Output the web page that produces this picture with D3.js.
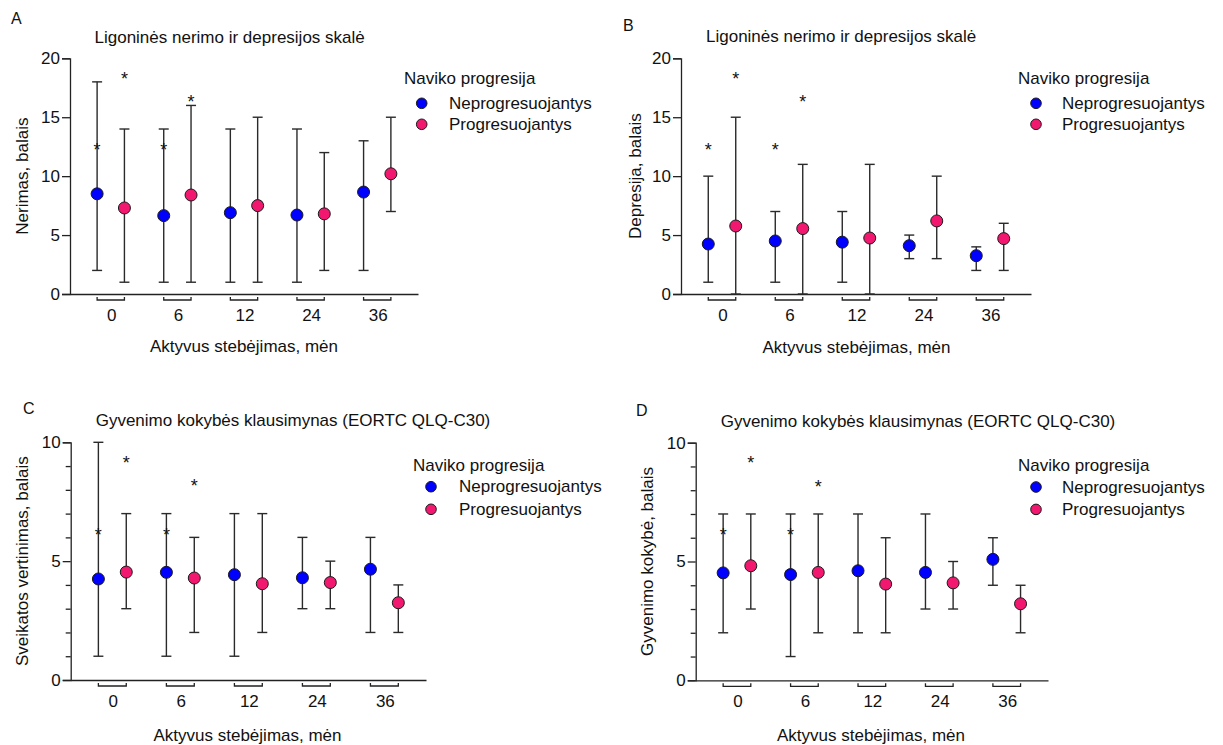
<!DOCTYPE html>
<html>
<head>
<meta charset="utf-8">
<script src="https://cdn.jsdelivr.net/npm/d3@7"></script>
<style>
  html, body { margin: 0; padding: 0; background: #fff; }
  svg text { font-family: "Liberation Sans", Arial, sans-serif; fill: #111; }
</style>
</head>
<body>
<svg id="chart" width="1223" height="745"></svg>
<script>
// ---------- data ----------
const groups = ["0", "6", "12", "24", "36"];
const seriesNames = ["Neprogresuojantys", "Progresuojantys"];
const legendTitle = "Naviko progresija";
const xAxisTitle = "Aktyvus stebėjimas, mėn";

// Panel A — Nerimas
const aMeanNon  = [8.5, 6.65, 6.9, 6.7, 8.65];
const aLowNon   = [2, 1, 1, 1, 2];
const aHighNon  = [18, 14, 14, 14, 13];
const aMeanProg = [7.3, 8.4, 7.5, 6.8, 10.2];
const aLowProg  = [1, 1, 1, 2, 7];
const aHighProg = [14, 16, 15, 12, 15];
const aStarNon  = [12.6, 12.6, null, null, null];
const aStarProg = [18.6, 16.6, null, null, null];

// Panel B — Depresija
const bMeanNon  = [4.24, 4.5, 4.4, 4.1, 3.25];
const bLowNon   = [1, 1, 1, 3, 2];
const bHighNon  = [10, 7, 7, 5, 4];
const bMeanProg = [5.77, 5.55, 4.75, 6.2, 4.7];
const bLowProg  = [0, 0, 0, 3, 2];
const bHighProg = [15, 11, 11, 10, 6];
const bStarNon  = [12.6, 12.6, null, null, null];
const bStarProg = [18.6, 16.6, null, null, null];

// Panel C — Sveikatos vertinimas
const cMeanNon  = [4.25, 4.53, 4.43, 4.3, 4.66];
const cLowNon   = [1, 1, 1, 3, 2];
const cHighNon  = [10, 7, 7, 6, 6];
const cMeanProg = [4.54, 4.29, 4.05, 4.1, 3.25];
const cLowProg  = [3, 2, 2, 3, 2];
const cHighProg = [7, 6, 7, 5, 4];
const cStarNon  = [6.28, 6.28, null, null, null];
const cStarProg = [9.3, 8.33, null, null, null];

// Panel D — Gyvenimo kokybė
const dMeanNon  = [4.52, 4.45, 4.61, 4.54, 5.09];
const dLowNon   = [2, 1, 2, 3, 4];
const dHighNon  = [7, 7, 7, 7, 6];
const dMeanProg = [4.82, 4.54, 4.05, 4.1, 3.22];
const dLowProg  = [3, 2, 2, 3, 2];
const dHighProg = [7, 7, 6, 5, 4];
const dStarNon  = [6.3, 6.3, null, null, null];
const dStarProg = [9.3, 8.3, null, null, null];

const yMaxA = 20, yMaxC = 10;
const yTicksAB = [0, 5, 10, 15, 20];
const yTicksCD = [0, 5, 10];
const yMinorCD = [1, 2, 3, 4, 6, 7, 8, 9];

// ---------- layout / style ----------
const colors = ["#0000ff", "#f2186f"];
const ink = "#222";
const FS = 17;

const panels = [
  { letter: "A", lx: 11, ly: 24, title: "Ligoninės nerimo ir depresijos skalė", tx: 94.5, ty: 43,
    ylabel: "Nerimas, balais", ylx: 22, x0: 70, x1: 418, yTop: 58.3, yBot: 294, ymax: yMaxA,
    ticks: yTicksAB, minor: [], leg: { x: 404, y: 84, dx: 421.7, tx: 449, y1: 103.3, gap: 21 },
    data: [[aMeanNon, aLowNon, aHighNon, aStarNon], [aMeanProg, aLowProg, aHighProg, aStarProg]],
    xlx: 150, xly: 352 },
  { letter: "B", lx: 623, ly: 31, title: "Ligoninės nerimo ir depresijos skalė", tx: 706, ty: 42,
    ylabel: "Depresija, balais", ylx: 635, x0: 681, x1: 1031, yTop: 58.3, yBot: 294, ymax: yMaxA,
    ticks: yTicksAB, minor: [], leg: { x: 1018, y: 84, dx: 1036, tx: 1062, y1: 103.3, gap: 21 },
    data: [[bMeanNon, bLowNon, bHighNon, bStarNon], [bMeanProg, bLowProg, bHighProg, bStarProg]],
    xlx: 762.5, xly: 353 },
  { letter: "C", lx: 23, ly: 414, title: "Gyvenimo kokybės klausimynas (EORTC QLQ-C30)", tx: 95.7, ty: 426,
    ylabel: "Sveikatos vertinimas, balais", ylx: 22, x0: 70.7, x1: 426, yTop: 442.3, yBot: 680, ymax: yMaxC,
    ticks: yTicksCD, minor: yMinorCD, leg: { x: 413, y: 471, dx: 431, tx: 459, y1: 486.7, gap: 22.6 },
    data: [[cMeanNon, cLowNon, cHighNon, cStarNon], [cMeanProg, cLowProg, cHighProg, cStarProg]],
    xlx: 153.5, xly: 741 },
  { letter: "D", lx: 636, ly: 416, title: "Gyvenimo kokybės klausimynas (EORTC QLQ-C30)", tx: 720.7, ty: 427,
    ylabel: "Gyvenimo kokybė, balais", ylx: 647, x0: 695.7, x1: 1048, yTop: 442.7, yBot: 680.3, ymax: yMaxC,
    ticks: yTicksCD, minor: yMinorCD, leg: { x: 1018, y: 471, dx: 1036, tx: 1062, y1: 487, gap: 22.4 },
    data: [[dMeanNon, dLowNon, dHighNon, dStarNon], [dMeanProg, dLowProg, dHighProg, dStarProg]],
    xlx: 777, xly: 741 }
];

const svg = d3.select("#chart");

panels.forEach(p => {
  const g = svg.append("g");

  const y = d3.scaleLinear().domain([0, p.ymax]).range([p.yBot, p.yTop]);
  const x = d3.scaleBand().domain(groups).range([p.x0, p.x1]).paddingInner(0).paddingOuter(0.112);
  const off = x.step() * 0.41;
  const xs = d3.scalePoint().domain(seriesNames).range([-off / 2, off / 2]);
  const cx = (gi, si) => x(groups[gi]) + x.bandwidth() / 2 + xs(seriesNames[si]);

  // panel letter & title
  g.append("text").attr("x", p.lx).attr("y", p.ly).attr("font-size", 16).text(p.letter);
  g.append("text").attr("x", p.tx).attr("y", p.ty).attr("font-size", FS).text(p.title);

  // y axis
  const yAxis = d3.axisLeft(y).tickValues(p.ticks).tickSize(8).tickPadding(2).tickFormat(d3.format("d"));
  const ya = g.append("g").attr("transform", `translate(${p.x0},0)`).call(yAxis);
  ya.select(".domain").attr("stroke", ink).attr("stroke-width", 1.3);
  ya.selectAll(".tick line").attr("stroke", ink).attr("stroke-width", 1.3);
  ya.selectAll(".tick text").attr("font-size", FS).attr("fill", "#111")
    .attr("font-family", '"Liberation Sans", Arial, sans-serif');
  if (p.minor.length) {
    const ym = d3.axisLeft(y).tickValues(p.minor).tickSize(5).tickFormat("");
    const mg = g.append("g").attr("transform", `translate(${p.x0},0)`).call(ym);
    mg.select(".domain").remove();
    mg.selectAll(".tick line").attr("stroke", ink).attr("stroke-width", 1.3);
  }

  // x axis (baseline)
  const xAxis = d3.axisBottom(x).tickSize(0).tickFormat("");
  const xa = g.append("g").attr("transform", `translate(0,${p.yBot})`).call(xAxis);
  xa.select(".domain").attr("stroke", ink).attr("stroke-width", 1.3);
  xa.selectAll(".tick").remove();

  // group brackets + labels
  groups.forEach((grp, gi) => {
    const xa0 = cx(gi, 0), xa1 = cx(gi, 1), by = p.yBot + 6;
    g.append("path")
      .attr("d", `M${xa0},${by - 3}V${by}H${xa1}V${by - 3}`)
      .attr("fill", "none").attr("stroke", ink).attr("stroke-width", 1.3);
    g.append("text").attr("x", (xa0 + xa1) / 2 + 1).attr("y", p.yBot + 26.5)
      .attr("text-anchor", "middle").attr("font-size", FS).text(grp);
  });

  // x axis title
  g.append("text").attr("x", p.xlx).attr("y", p.xly).attr("font-size", FS).text(xAxisTitle);

  // y axis title
  g.append("text")
    .attr("transform", `translate(${p.ylx},${(p.yTop + p.yBot) / 2}) rotate(-90)`)
    .attr("text-anchor", "middle").attr("dominant-baseline", "central")
    .attr("font-size", FS).text(p.ylabel);

  // error bars, stars
  p.data.forEach((s, si) => {
    const [mean, lo, hi, star] = s;
    groups.forEach((grp, gi) => {
      const xc = cx(gi, si);
      const eb = g.append("g").attr("stroke", "#2a2a2a").attr("stroke-width", 1.4).attr("fill", "none");
      eb.append("line").attr("x1", xc).attr("x2", xc).attr("y1", y(lo[gi])).attr("y2", y(hi[gi]));
      eb.append("line").attr("x1", xc - 5).attr("x2", xc + 5).attr("y1", y(hi[gi])).attr("y2", y(hi[gi]));
      eb.append("line").attr("x1", xc - 5).attr("x2", xc + 5).attr("y1", y(lo[gi])).attr("y2", y(lo[gi]));
      if (star[gi] != null) {
        g.append("text").attr("x", xc).attr("y", y(star[gi]) + 10)
          .attr("text-anchor", "middle").attr("font-size", 18).text("*");
      }
    });
  });
  // points
  p.data.forEach((s, si) => {
    const mean = s[0];
    g.selectAll(null).data(mean).enter().append("circle")
      .attr("cx", (d, gi) => cx(gi, si)).attr("cy", d => y(d)).attr("r", 6)
      .attr("fill", colors[si]).attr("stroke", "#1a1a1a").attr("stroke-width", 1);
  });

  // legend
  const lg = g.append("g");
  lg.append("text").attr("x", p.leg.x).attr("y", p.leg.y).attr("font-size", FS).text(legendTitle);
  seriesNames.forEach((nm, si) => {
    const yy = p.leg.y1 + si * p.leg.gap;
    lg.append("circle").attr("cx", p.leg.dx).attr("cy", yy).attr("r", 5.3)
      .attr("fill", colors[si]).attr("stroke", "#1a1a1a").attr("stroke-width", 1);
    lg.append("text").attr("x", p.leg.tx).attr("y", yy).attr("dominant-baseline", "central")
      .attr("font-size", FS).text(nm);
  });
});
</script>
</body>
</html>
